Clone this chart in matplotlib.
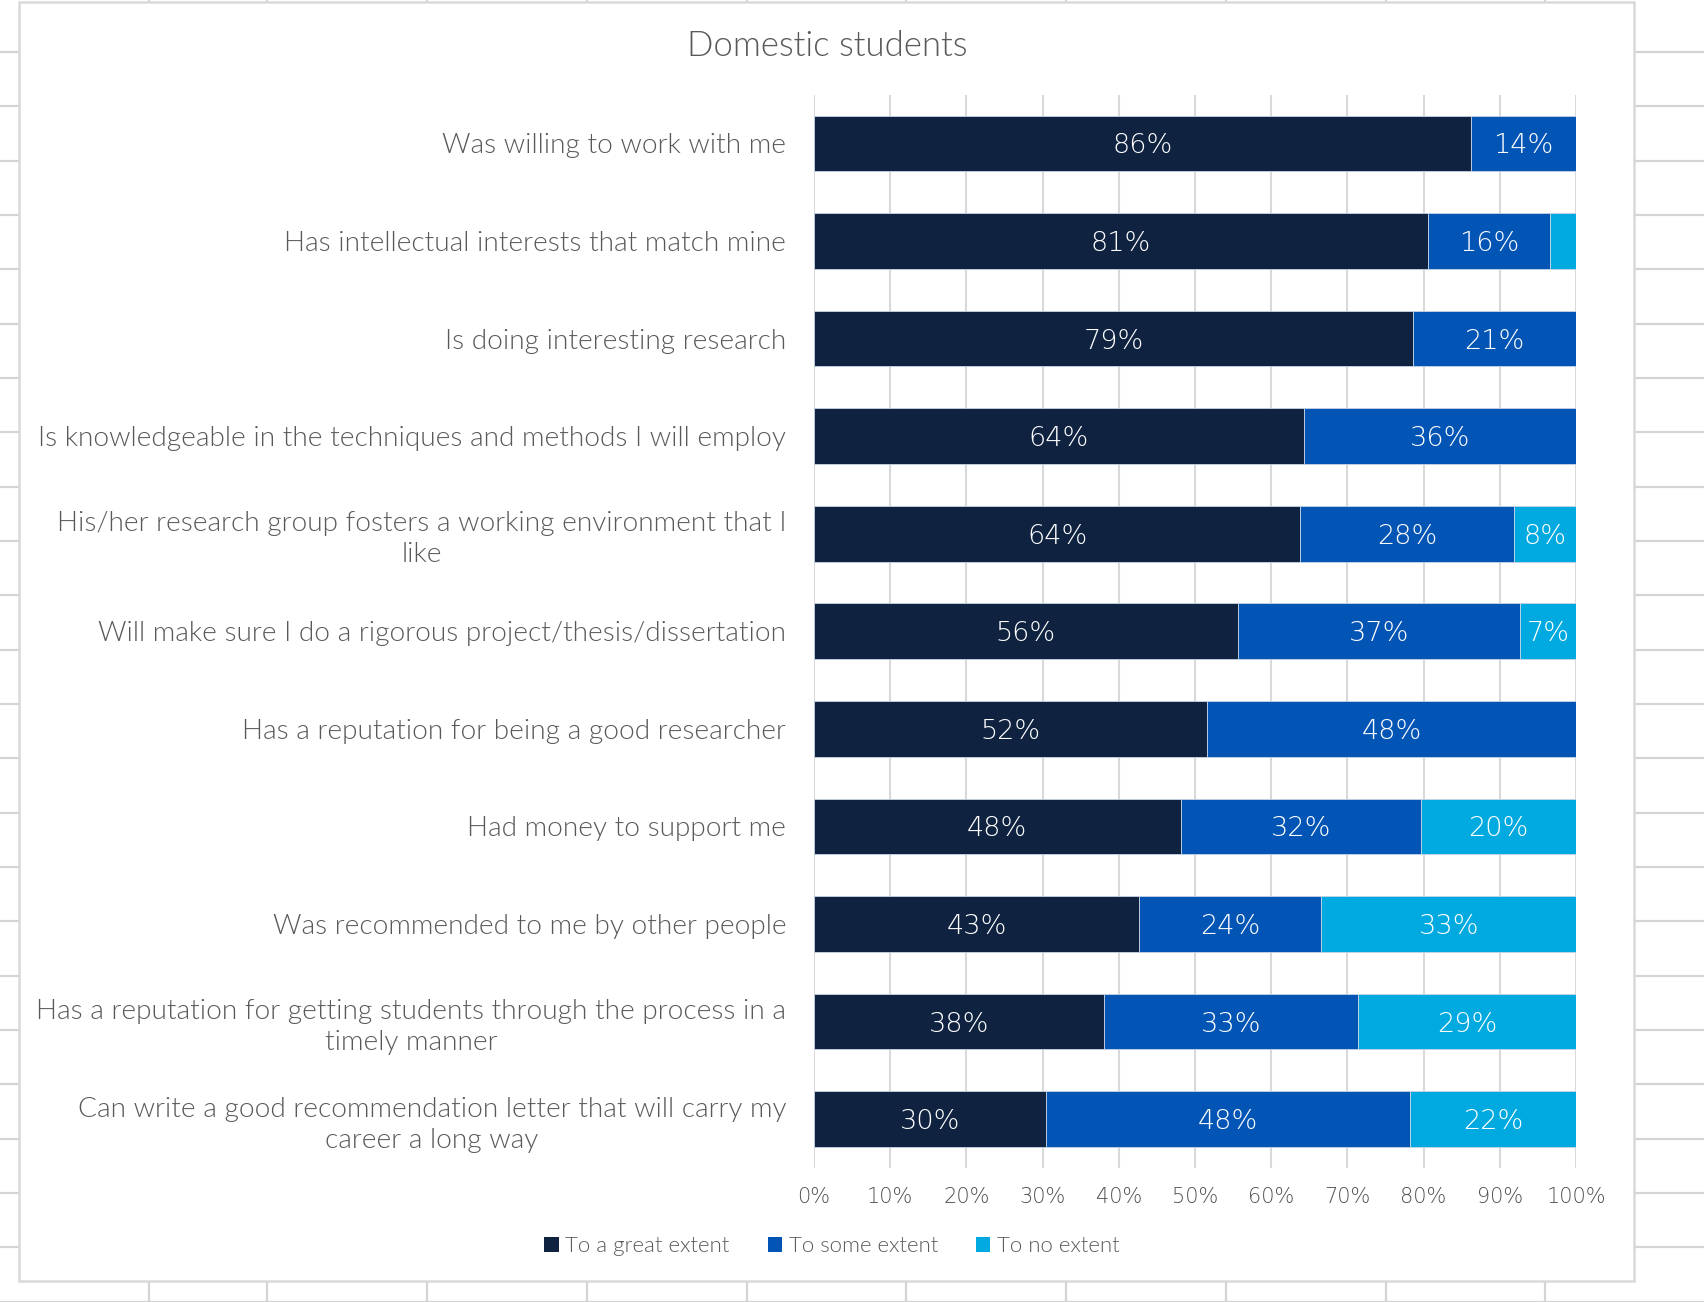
import numpy as np
import matplotlib
matplotlib.use("Agg")
import matplotlib.pyplot as plt
from matplotlib.patches import Rectangle, Patch

plt.rcParams['font.family'] = ['Lato', 'DejaVu Sans']

categories = [
    "Was willing to work with me",
    "Has intellectual interests that match mine",
    "Is doing interesting research",
    "Is knowledgeable in the techniques and methods I will employ",
    "His/her research group fosters a working environment that I\nlike",
    "Will make sure I do a rigorous project/thesis/dissertation",
    "Has a reputation for being a good researcher",
    "Had money to support me",
    "Was recommended to me by other people",
    "Has a reputation for getting students through the process in a\ntimely manner",
    "Can write a good recommendation letter that will carry my\ncareer a long way",
]
great = [86.2, 80.6, 78.6, 64.3, 63.8, 55.6, 51.6, 48.1, 42.7, 38.1, 30.4]
some = [13.8, 16.0, 21.4, 35.7, 28.1, 37.0, 48.4, 31.6, 23.9, 33.3, 47.8]
none_ = [0.0, 3.4, 0.0, 0.0, 8.1, 7.4, 0.0, 20.3, 33.4, 28.6, 21.8]
series_names = ["To a great extent", "To some extent", "To no extent"]
colors = ["#0F2341", "#0355B5", "#00A9E0"]
xticks = [0, 10, 20, 30, 40, 50, 60, 70, 80, 90, 100]

W, H = 1704, 1302
fig = plt.figure(figsize=(W / 100, H / 100), dpi=100)
numfont = ['DejaVu Sans']
tcol = "#595959"

# spreadsheet background
bg = fig.add_axes([0, 0, 1, 1])
bg.set_xlim(0, W)
bg.set_ylim(H, 0)
bg.axis('off')
gcol = "#D4D4D4"
for xv in [149, 267, 427, 587, 747, 906, 1066, 1226, 1386, 1545]:
    bg.plot([xv, xv], [0, H], color=gcol, lw=1.6)
for yv in 52 + 54.33 * np.arange(24):
    bg.plot([0, W], [yv, yv], color=gcol, lw=1.6)
bg.add_patch(Rectangle((19, 2), 1615, 1279, facecolor='white',
                       edgecolor="#D9D9D9", lw=1.8, zorder=5))

# chart
ax = fig.add_axes([814 / W, 1 - 1168 / H, 762 / W, (1168 - 94.6) / H])
ax.set_facecolor('none')
y = np.arange(len(categories))
left = np.zeros(len(categories))
for vals, name, col in zip([great, some, none_], series_names, colors):
    vals = np.array(vals)
    bars = ax.barh(y, vals, left=left, height=0.57, color=col, label=name,
                   edgecolor='#C8D4E6', linewidth=0.6, zorder=3)
    for b, v in zip(bars, vals):
        if v >= 5:
            ax.text(b.get_x() + b.get_width() / 2, b.get_y() + b.get_height() / 2,
                    f"{v:.0f}%", ha='center', va='center_baseline', color='white',
                    fontsize=19.5, family=numfont, fontweight='light', zorder=4)
    left += vals

ax.set_xlim(0, 100)
ax.set_ylim(len(categories) - 0.5, -0.5)
ax.set_xticks(xticks)
ax.set_xticklabels([f"{t}%" for t in xticks], fontsize=15, color="#4F4F4F",
                   family=numfont, fontweight='light')
ax.set_yticks(y)
ax.set_yticklabels(categories, fontsize=20.2, color=tcol, multialignment='center',
                   linespacing=1.3, fontweight=300)
ax.tick_params(axis='both', length=0)
ax.tick_params(axis='y', pad=20)
ax.tick_params(axis='x', pad=14)
ax.xaxis.grid(True, color="#D9D9D9", lw=1.5, zorder=0)
ax.set_axisbelow(True)
for s in ax.spines.values():
    s.set_visible(False)

fig.text(827 / W, 1 - 46 / H, "Domestic students", ha='center', va='center',
         fontsize=25, color=tcol, fontweight=300)

handles = [Patch(facecolor=c, edgecolor='none') for c in colors]
fig.legend(handles, series_names, loc='center', bbox_to_anchor=(832 / W, 1 - 1246 / H),
           ncol=3, frameon=False, labelcolor=tcol, prop={'size': 16, 'weight': 300},
           handlelength=0.65, handleheight=0.65, handletextpad=0.3, columnspacing=1.7)

fig.savefig("out.png", dpi=100)
